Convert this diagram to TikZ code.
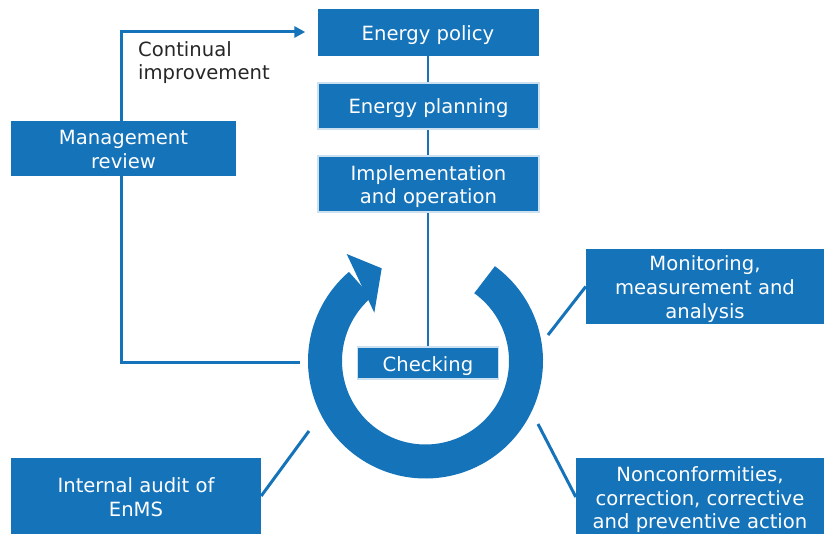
\documentclass[tikz,border=0pt]{standalone}
\usepackage{fontspec}
\setmainfont{DejaVu Sans}
\usetikzlibrary{arrows.meta,backgrounds}
\definecolor{eblue}{RGB}{21,115,186}
\definecolor{edgec}{RGB}{205,224,240}
\definecolor{txtc}{RGB}{38,38,38}
\newcommand\hstrut{\rule{0pt}{21pt}}
\newcommand\dstrut{\rule[-5pt]{0pt}{5pt}}
\begin{document}
\begin{tikzpicture}[x=1pt,y=-1pt,
  box/.style={fill=eblue, text=white, inner sep=0pt, align=center,
    font=\fontsize{19.6}{24}\selectfont},
  rimbox/.style={box, draw=edgec, line width=1.2pt},
  link/.style={draw=eblue, line width=3pt}]
\useasboundingbox (0,0) rectangle (824,534);
% boxes
\node[box, minimum width=221pt, minimum height=47pt] (policy) at (428,32.5) {\hstrut Energy policy\dstrut};
\node[rimbox, minimum width=221pt, minimum height=46pt] (plan) at (428.5,106) {\hstrut Energy planning\dstrut};
\node[rimbox, minimum width=221pt, minimum height=56pt, font=\fontsize{19.6}{22.5}\selectfont] (impl) at (428.5,184) {\hstrut Implementation\\and operation\dstrut};
\node[rimbox, minimum width=141pt, minimum height=32pt] (check) at (428,363) {\hstrut Checking\dstrut};
\node[box, minimum width=225pt, minimum height=55pt] (mr) at (123.5,148.5) {\hstrut Management\\review\dstrut};
\node[box, minimum width=238pt, minimum height=75pt] (mon) at (705,286.5) {\hstrut Monitoring,\\measurement and\\analysis\dstrut};
\node[box, minimum width=250pt, minimum height=76pt] (ia) at (136,496) {\hstrut Internal audit of\\EnMS\dstrut};
\node[box, minimum width=248pt, minimum height=78pt, font=\fontsize{19.6}{23.5}\selectfont] (nc) at (700,497) {\hstrut Nonconformities,\\correction, corrective\\and preventive action\dstrut};
\node[anchor=west, align=left, text=txtc, inner sep=0pt,
  font=\fontsize{19.6}{23}\selectfont] (cilbl) at (138,63) {Continual\\improvement};
% ring
\coordinate (rc) at (425.5,361);
\draw[eblue, line width=34pt] (rc) ++(-54:100.5) arc[start angle=-54, end angle=229.5, radius=100.5];
\fill[eblue] (346.7,254) -- (381.7,268.3) -- (374.3,312.7) -- cycle;
% connectors
\coordinate (ringL) at (300,362);
\coordinate (ci) at (121,32);
\coordinate (m1) at (548,335);
\coordinate (n1) at (538,424);
\coordinate (a1) at (309,431);
\begin{scope}[on background layer]
\draw[link, line width=2.7pt] (policy.south) -- (check.north);
\draw[link, -{Triangle[length=11pt,width=11pt]}, shorten >=12pt] (ringL) -| (ci) -- (ci -| policy.west);
\draw[link] (m1) -- (mon.west);
\draw[link] (n1) -- (nc.west);
\draw[link] (a1) -- (ia.east);
\end{scope}
\end{tikzpicture}
\end{document}
